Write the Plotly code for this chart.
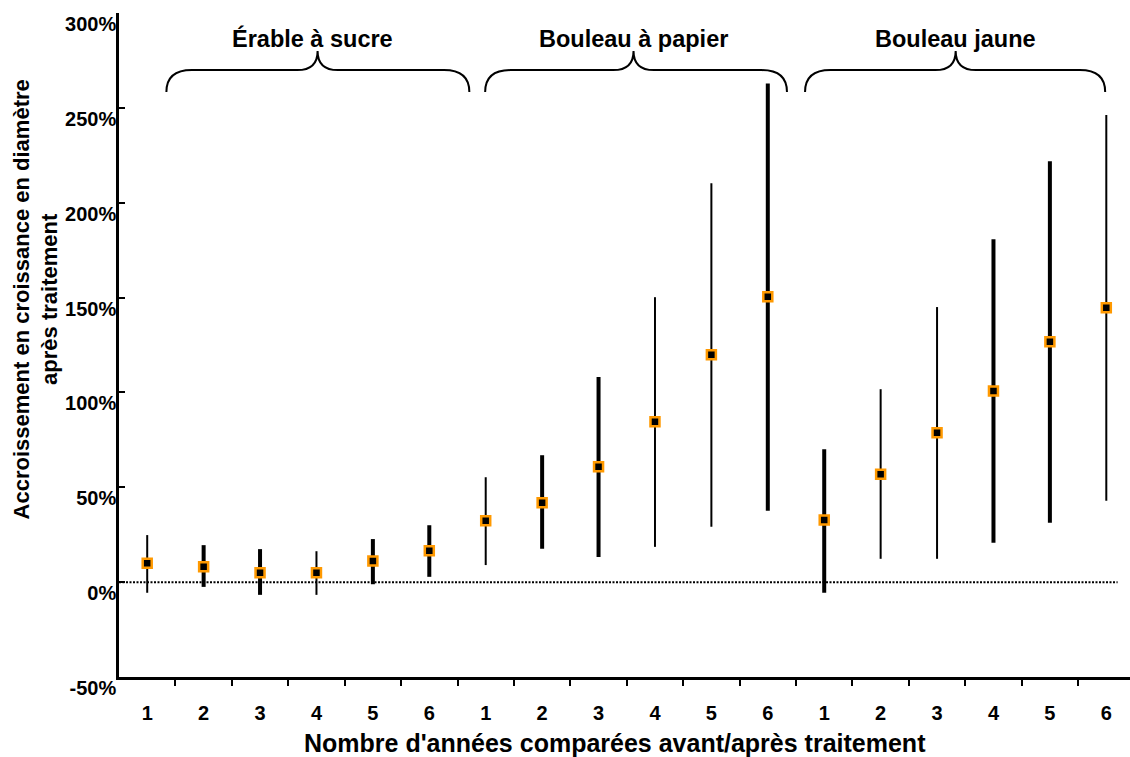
import plotly.graph_objects as go

# ---------------- data ----------------
groups = ["Érable à sucre", "Bouleau à papier", "Bouleau jaune"]
years = ["1", "2", "3", "4", "5", "6"]

mean_pct = [9.9, 8.1, 4.9, 4.9, 11.2, 16.5,
            32.3, 41.8, 60.8, 84.5, 119.8, 150.4,
            32.7, 56.9, 78.7, 100.8, 126.7, 144.6]
upper_pct = [24.8, 19.5, 17.4, 16.3, 22.7, 30.0,
             55.3, 66.9, 108.1, 150.2, 210.2, 262.9,
             70.1, 101.7, 145.0, 180.8, 221.9, 246.2]
lower_pct = [-5.6, -2.5, -6.7, -6.7, -1.1, 2.8,
             9.0, 17.6, 13.3, 18.6, 29.2, 37.6,
             -5.6, 12.3, 12.3, 20.7, 31.3, 42.9]
thick_bar = [False, True, True, False, True, True,
             False, True, True, False, False, True,
             True, False, False, True, True, False]

y_tick_vals = [-50, 0, 50, 100, 150, 200, 250, 300]
y_tick_text = ["-50%", "0%", "50%", "100%", "150%", "200%", "250%", "300%"]

x_title = "Nombre d'années comparées avant/après traitement"
y_title = "Accroissement en croissance en diamètre<br>après traitement"

# ---------------- derived ----------------
n = len(groups) * len(years)
x_pos = list(range(n))
x_labels = years * len(groups)
boundaries = [i + 0.5 for i in range(n - 1)]

FONT = "Liberation Sans, Arial, sans-serif"
ORANGE = "#FF9900"

fig = go.Figure()
for is_thick, width in [(True, 4), (False, 2)]:
    idx = [i for i in range(n) if thick_bar[i] == is_thick]
    fig.add_trace(go.Scatter(
        x=[x_pos[i] for i in idx],
        y=[mean_pct[i] for i in idx],
        mode="markers",
        marker=dict(symbol="square", size=9, color="black",
                    line=dict(color=ORANGE, width=2.5)),
        error_y=dict(type="data", symmetric=False,
                     array=[upper_pct[i] - mean_pct[i] for i in idx],
                     arrayminus=[mean_pct[i] - lower_pct[i] for i in idx],
                     thickness=width, width=0, color="black"),
        showlegend=False, hoverinfo="skip",
    ))

# dotted zero line
fig.add_shape(type="line", xref="x", yref="y", x0=-0.5, x1=17.2, y0=0, y1=0,
              line=dict(color="black", width=2, dash="2px,1.5px"), layer="below")

# group braces and labels (layout decorations)
brace_spans = [(0.34, 3.02, 5.71), (5.99, 8.62, 11.34), (11.66, 14.33, 16.98)]
label_x = [2.93, 8.62, 14.33]
y_end, y_bar, y_tip, y_lab = 258.3, 269.9, 280.0, 286.3
de, dt = 0.45, 0.36
for (x0, xm, x1), lx, name in zip(brace_spans, label_x, groups):
    path = (f"M {x0},{y_end} Q {x0},{y_bar} {x0+de},{y_bar} "
            f"L {xm-dt},{y_bar} Q {xm},{y_bar} {xm},{y_tip} "
            f"Q {xm},{y_bar} {xm+dt},{y_bar} "
            f"L {x1-de},{y_bar} Q {x1},{y_bar} {x1},{y_end}")
    fig.add_shape(type="path", path=path, xref="x", yref="y",
                  line=dict(color="black", width=2))
    fig.add_annotation(x=lx, y=y_lab, xref="x", yref="y", text=name,
                       showarrow=False, xanchor="center", yanchor="middle",
                       font=dict(family=FONT, size=23.5, color="black", weight="bold"))

# y title
fig.add_annotation(x=-0.0825, y=0.568, xref="paper", yref="paper",
                   text=y_title, textangle=-90, showarrow=False,
                   xanchor="center", yanchor="middle",
                   font=dict(family=FONT, size=22, color="black", weight="bold"))

# x title
fig.add_annotation(x=0.4906, y=-0.0995, xref="paper", yref="paper",
                   text=x_title, showarrow=False,
                   xanchor="center", yanchor="middle",
                   font=dict(family=FONT, size=25, color="black", weight="bold"))

fig.update_layout(
    width=1130, height=757, autosize=False,
    margin=dict(l=119, r=0, t=13, b=80, pad=0),
    plot_bgcolor="white", paper_bgcolor="white",
    xaxis=dict(range=[-0.5, 17.42], tickmode="array", tickvals=x_pos,
               ticktext=x_labels, ticks="", showgrid=False, zeroline=False,
               showline=True, linecolor="black", linewidth=2.5,
               tickfont=dict(family=FONT, size=20, color="black", weight="bold"),
               ticklabelstandoff=16,
               minor=dict(tickmode="array", tickvals=boundaries, ticks="outside",
                          ticklen=6, tickwidth=2, tickcolor="black")),
    yaxis=dict(range=[-50, 300], tickmode="array", tickvals=y_tick_vals,
               ticktext=y_tick_text, ticks="inside", ticklen=6, tickwidth=2,
               tickcolor="black", showgrid=False, zeroline=False,
               showline=True, linecolor="black", linewidth=2.5,
               ticklabelshift=11, ticklabelstandoff=-4,
               tickfont=dict(family=FONT, size=20, color="black", weight="bold")),
)

fig.write_html("out.html")
